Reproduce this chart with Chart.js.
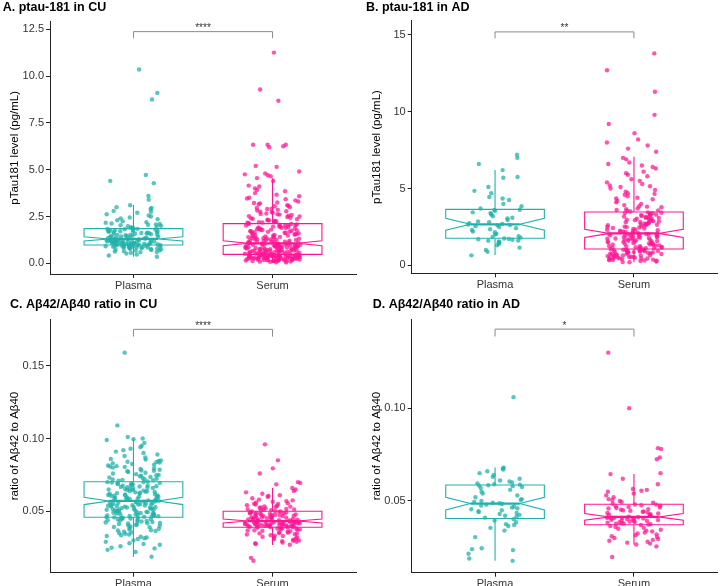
<!DOCTYPE html>
<html><head><meta charset="utf-8">
<script src="https://cdn.jsdelivr.net/npm/chart.js@4.4.1/dist/chart.umd.min.js"></script>
<style>
html,body{margin:0;padding:0;background:#fff;}
#wrap{position:relative;width:720px;height:586px;overflow:hidden;}
canvas{position:absolute;}
</style></head><body>
<div id="wrap">
<canvas id="cA" width="360" height="293" style="left:0;top:0"></canvas>
<canvas id="cB" width="360" height="293" style="left:360px;top:0"></canvas>
<canvas id="cC" width="360" height="293" style="left:0;top:293px"></canvas>
<canvas id="cD" width="360" height="293" style="left:360px;top:293px"></canvas>
</div>
<script>
// ---------- data ----------
const categories = ['Plasma', 'Serum'];
const panelTitles = ['A. ptau-181 in CU', 'B. ptau-181 in AD', 'C. Aβ42/Aβ40 ratio in CU', 'D. Aβ42/Aβ40 ratio in AD'];
const yAxisTitles = ['pTau181 level (pg/mL)', 'pTau181 level (pg/mL)', 'ratio of Aβ42 to Aβ40', 'ratio of Aβ42 to Aβ40'];

const yTicksA = [0, 2.5, 5, 7.5, 10, 12.5];
const yTickLabelsA = ['0.0', '2.5', '5.0', '7.5', '10.0', '12.5'];
const yTicksB = [0, 5, 10, 15];
const yTickLabelsB = ['0', '5', '10', '15'];
const yTicksC = [0.05, 0.10, 0.15];
const yTickLabelsC = ['0.05', '0.10', '0.15'];
const yTicksD = [0.05, 0.10];
const yTickLabelsD = ['0.05', '0.10'];

// A. ptau-181 in CU
const plasmaA = [0.35,0.42,0.47,0.52,0.56,0.6,0.63,0.65,0.68,0.7,0.71,0.73,0.75,0.76,0.78,0.79,0.8,0.82,0.83,0.84,0.85,0.86,0.87,0.88,0.89,0.9,0.91,0.92,0.93,0.93,0.94,0.95,0.95,0.96,0.97,0.97,0.6,
0.99,1.0,1.01,1.02,1.03,1.04,1.05,1.06,1.07,1.08,1.09,1.1,1.11,1.12,1.13,1.14,1.15,1.16,1.17,1.18,1.19,1.2,1.21,1.22,1.23,1.24,1.25,1.26,1.27,1.28,1.29,1.0,1.04,1.08,1.12,1.16,1.2,1.24,
1.31,1.33,1.35,1.36,1.38,1.4,1.41,1.43,1.45,1.46,1.48,1.5,1.51,1.53,1.55,1.56,1.58,1.6,1.61,1.63,1.65,1.66,1.68,1.7,1.71,1.73,1.75,1.76,1.78,1.8,1.82,1.84,1.32,1.42,1.52,1.62,1.72,1.83,
1.87,1.9,1.92,1.95,1.98,2.0,2.03,2.06,2.1,2.13,2.17,2.2,2.25,2.3,2.35,2.4,2.45,2.5,2.55,2.62,2.7,2.75,2.8,2.9,2.95,3.0,3.1,3.4,3.6,4.28,4.4,4.72,8.75,9.1,10.35,1.88,2.08];
const serumA = [0.05,0.06,0.08,0.09,0.1,0.11,0.12,0.13,0.14,0.15,0.15,0.16,0.17,0.18,0.18,0.19,0.2,0.2,0.21,0.22,0.22,0.23,0.24,0.24,0.25,0.26,0.26,0.27,0.28,0.28,0.29,0.3,0.3,0.31,0.32,0.32,0.33,0.34,0.34,0.35,0.35,0.36,0.37,0.37,0.38,0.38,0.39,0.4,0.4,0.41,0.41,0.42,0.42,0.43,0.43,0.44,0.44,0.45,0.45,0.46,0.46,0.47,0.47,0.12,0.2,0.27,0.33,0.39,0.43,0.16,
0.49,0.5,0.51,0.52,0.53,0.54,0.55,0.56,0.57,0.58,0.59,0.6,0.61,0.62,0.63,0.64,0.65,0.66,0.67,0.68,0.69,0.7,0.71,0.72,0.73,0.74,0.75,0.76,0.77,0.78,0.79,0.8,0.81,0.82,0.83,0.84,0.85,0.86,0.87,0.88,0.89,0.9,0.91,0.92,0.93,0.94,0.95,0.96,0.97,0.98,0.99,1.0,1.01,1.02,1.03,1.04,1.05,1.06,0.52,0.58,0.63,0.68,0.72,0.77,0.83,0.88,0.93,0.98,1.02,0.55,
1.08,1.1,1.12,1.13,1.15,1.17,1.18,1.2,1.22,1.24,1.25,1.27,1.29,1.3,1.32,1.34,1.36,1.38,1.4,1.42,1.44,1.46,1.48,1.5,1.52,1.54,1.56,1.58,1.6,1.62,1.64,1.66,1.68,1.7,1.72,1.74,1.76,1.78,1.8,1.82,1.84,1.86,1.88,1.9,1.92,1.94,1.96,1.98,2.0,2.02,2.04,2.06,2.08,2.1,1.11,1.16,1.21,1.26,1.33,1.41,1.47,1.55,1.63,1.71,1.79,1.87,1.95,2.03,2.11,1.35,
2.14,2.17,2.2,2.23,2.26,2.3,2.33,2.36,2.4,2.43,2.47,2.5,2.54,2.58,2.62,2.66,2.7,2.74,2.78,2.82,2.86,2.9,2.95,3.0,3.05,3.1,3.15,3.2,3.25,3.3,3.36,3.42,3.5,3.58,3.66,3.75,3.85,3.92,4.0,4.1,4.15,4.4,4.55,4.65,4.7,4.75,4.8,4.9,5.15,5.2,6.2,6.25,6.33,6.33,6.33,8.68,9.28,11.25,2.18,2.28,2.38,2.52,2.64,2.76,2.92,3.08,3.22,3.46,2.24,2.6];

// B. ptau-181 in AD
const plasmaB = [0.65,0.88,1.0,1.15,1.3,1.4,1.45,1.5,1.55,1.6,1.62,1.66,1.7,1.72,1.75,
1.8,1.85,1.9,2.0,2.05,2.15,2.2,2.3,2.35,2.42,2.5,2.55,2.6,2.63,2.66,
2.7,2.75,2.8,2.85,2.95,3.05,3.1,3.2,3.3,3.35,3.4,3.45,3.55,3.6,3.62,
3.7,3.85,4.0,4.25,4.35,4.45,4.7,4.85,5.1,5.7,5.75,6.2,6.6,7.0,7.2];
const serumB = [0.2,0.22,0.25,0.28,0.3,0.32,0.35,0.37,0.4,0.42,0.44,0.46,0.48,0.5,0.52,0.54,0.56,0.58,0.6,0.62,0.64,0.66,0.68,0.7,0.72,0.74,0.76,0.78,0.8,0.82,0.84,0.86,0.88,0.9,0.92,0.94,0.96,0.98,1.0,1.02,1.04,1.05,0.33,0.45,0.55,0.65,0.75,0.85,0.95,1.01,0.5,0.9,
1.08,1.1,1.12,1.14,1.16,1.18,1.2,1.22,1.25,1.28,1.3,1.33,1.36,1.38,1.4,1.43,1.46,1.48,1.5,1.53,1.56,1.58,1.6,1.63,1.66,1.68,1.7,1.73,1.76,1.78,1.8,1.83,1.86,1.88,1.9,1.93,1.96,1.98,2.0,2.02,2.04,2.06,2.07,1.15,1.24,1.35,1.45,1.55,1.65,1.75,1.85,1.95,2.05,
2.1,2.13,2.16,2.19,2.22,2.25,2.28,2.31,2.34,2.37,2.4,2.43,2.46,2.49,2.52,2.55,2.58,2.61,2.64,2.67,2.7,2.73,2.76,2.79,2.82,2.85,2.88,2.91,2.94,2.97,3.0,3.03,3.06,3.09,3.12,3.15,3.18,3.21,3.24,3.27,3.3,3.33,3.36,3.39,3.42,3.45,2.2,2.5,2.8,3.1,3.4,2.65,2.95,
3.5,3.55,3.6,3.65,3.7,3.78,3.85,3.92,4.0,4.1,4.2,4.3,4.4,4.5,4.6,4.65,4.7,4.8,4.9,5.0,5.1,5.15,5.2,5.3,5.4,5.5,5.6,5.8,5.9,6.0,6.1,6.3,6.4,6.5,6.6,6.7,6.9,7.0,7.4,7.6,7.8,8.0,8.2,8.6,9.2,9.8,11.3,12.7,13.8,3.58,3.82,4.35];

// C. Aβ42/Aβ40 ratio in CU
const plasmaC = [0.0188,0.022,0.0235,0.025,0.026,0.027,0.028,0.029,0.03,0.031,0.032,0.0325,0.033,0.034,0.0345,0.035,0.0355,0.036,0.0365,0.037,0.0375,0.038,0.0385,0.039,0.0395,0.04,0.0403,0.0406,0.041,0.0413,0.0416,0.042,0.0423,0.0426,0.043,0.0433,0.0436,0.044,0.0443,0.0446,0.045,0.0453,0.0456,0.0458,0.0245,0.0275,0.0315,0.0335,0.0368,0.0392,0.0418,0.0438,0.0448,0.0455,0.0428,
0.046,0.0462,0.0464,0.0466,0.0468,0.047,0.0472,0.0474,0.0476,0.0478,0.048,0.0482,0.0484,0.0486,0.0488,0.049,0.0492,0.0494,0.0496,0.0498,0.05,0.0502,0.0504,0.0506,0.0508,0.051,0.0512,0.0514,0.0516,0.0518,0.052,0.0522,0.0524,0.0526,0.0528,0.053,0.0532,0.0534,0.0536,0.0538,0.054,0.0542,0.0544,0.0546,0.0548,0.055,0.0552,0.0554,0.0556,0.0558,0.056,0.0562,0.0564,0.0566,0.0569,
0.0573,0.0575,0.0578,0.058,0.0582,0.0585,0.0587,0.059,0.0592,0.0595,0.0597,0.06,0.0602,0.0605,0.0607,0.061,0.0612,0.0615,0.0617,0.062,0.0622,0.0625,0.0627,0.063,0.0632,0.0635,0.0637,0.064,0.0642,0.0645,0.0647,0.065,0.0652,0.0655,0.0657,0.066,0.0662,0.0665,0.0667,0.067,0.0672,0.0675,0.0677,0.068,0.0682,0.0685,0.0687,0.069,0.0692,0.0695,0.0697,0.07,0.0701,0.0576,0.0608,
0.0705,0.071,0.0713,0.0716,0.072,0.0724,0.0728,0.0732,0.0736,0.074,0.0745,0.075,0.0755,0.076,0.0765,0.077,0.0775,0.078,0.0785,0.079,0.0795,0.08,0.0805,0.081,0.0815,0.082,0.0825,0.083,0.0835,0.084,0.0845,0.085,0.0855,0.086,0.087,0.088,0.089,0.09,0.091,0.092,0.093,0.094,0.095,0.097,0.099,0.0995,0.1,0.101,0.109,0.159,0.0718,0.0748,0.0778,0.0808,0.0838];
const serumC = [0.016,0.018,0.027,0.0275,0.028,0.0285,0.029,0.0295,0.03,0.0305,0.031,0.0315,0.032,0.0325,0.033,0.0333,0.0336,0.034,0.0343,0.0346,0.035,0.0353,0.0356,0.036,0.0363,0.0366,0.037,0.0373,0.0376,0.0378,0.038,0.0382,0.0384,0.0386,0.0388,0.0389,0.0298,0.0318,0.0348,0.0368,
0.0391,0.0392,0.0393,0.0394,0.0395,0.0396,0.0397,0.0398,0.0399,0.04,0.0401,0.0402,0.0403,0.0404,0.0405,0.0406,0.0407,0.0408,0.0409,0.041,0.0411,0.0412,0.0413,0.0414,0.0415,0.0416,0.0417,0.0418,0.0419,0.042,0.0421,0.0422,0.0423,0.0424,0.0425,0.0426,0.0427,0.0428,0.043,0.0432,
0.0434,0.0436,0.0438,0.044,0.0442,0.0444,0.0446,0.0448,0.045,0.0452,0.0454,0.0456,0.0458,0.046,0.0462,0.0464,0.0466,0.0468,0.047,0.0472,0.0474,0.0476,0.0478,0.048,0.0482,0.0484,0.0486,0.0488,0.049,0.0492,0.0494,0.0496,0.0498,0.0499,0.0437,0.0447,0.0457,0.0467,0.0477,0.0487,
0.0502,0.0505,0.0508,0.051,0.0513,0.0516,0.052,0.0523,0.0526,0.053,0.0534,0.0538,0.0542,0.0546,0.055,0.0555,0.056,0.0565,0.057,0.058,0.059,0.06,0.061,0.062,0.063,0.064,0.065,0.066,0.0685,0.0695,0.07,0.076,0.0795,0.085,0.096,0.0515,0.0532,0.0552,0.0575,0.0605];

// D. Aβ42/Aβ40 ratio in AD
const plasmaD = [0.0177,0.019,0.0215,0.0235,0.024,0.0245,0.0305,0.034,0.0355,0.0365,0.037,0.0375,0.0385,0.0395,0.0402,
0.041,0.0415,0.042,0.0425,0.043,0.0435,0.044,0.0445,0.045,0.0455,0.046,0.0465,0.047,0.0475,0.048,0.0484,
0.0488,0.049,0.0495,0.05,0.0505,0.051,0.052,0.053,0.054,0.055,0.056,0.057,0.0575,0.058,0.0583,0.0585,
0.0588,0.059,0.0595,0.06,0.0605,0.061,0.062,0.063,0.064,0.065,0.066,0.067,0.0675,0.068,0.106];
const serumD = [0.0198,0.0255,0.0265,0.027,0.0275,0.028,0.0285,0.029,0.0295,0.03,0.0305,0.031,0.0315,0.032,0.0325,0.033,0.0335,0.034,0.0345,0.035,0.0355,0.036,0.0365,0.037,
0.0373,0.0375,0.0377,0.0379,0.0381,0.0383,0.0385,0.0387,0.0389,0.0391,0.0393,0.0395,0.0397,0.0399,0.0401,0.0403,0.0405,0.0406,0.0407,0.0408,0.0409,0.041,0.0411,0.0412,
0.0415,0.0418,0.042,0.0423,0.0426,0.0429,0.0432,0.0435,0.0438,0.0441,0.0444,0.0447,0.045,0.0453,0.0456,0.0459,0.0462,0.0465,0.0468,0.0471,0.0474,0.0477,0.048,0.0481,
0.0485,0.049,0.0495,0.05,0.051,0.052,0.053,0.054,0.055,0.0555,0.056,0.0565,0.059,0.062,0.0645,0.065,0.0725,0.0735,0.078,0.0785,0.1,0.13,0.0505];

// box statistics: [lower whisker, Q1, notch low, median, notch high, Q3, upper whisker]
const boxPlasmaA = [0.35, 0.98, 1.19, 1.30, 1.42, 1.85, 3.11];
const boxSerumA  = [0.05, 0.48, 0.94, 1.07, 1.20, 2.12, 4.54];
const boxPlasmaB = [0.67, 1.76, 2.28, 2.67, 3.06, 3.64, 6.2];
const boxSerumB  = [0.2, 1.06, 1.82, 2.08, 2.34, 3.47, 7.07];
const boxPlasmaC = [0.0188, 0.0459, 0.0546, 0.0571, 0.0596, 0.0703, 0.100];
const boxSerumC  = [0.0269, 0.0390, 0.0419, 0.0433, 0.0447, 0.0500, 0.066];
const boxPlasmaD = [0.0177, 0.0405, 0.0452, 0.0486, 0.0520, 0.0586, 0.068];
const boxSerumD  = [0.0265, 0.0372, 0.0396, 0.0414, 0.0432, 0.0482, 0.0645];

// significance brackets (one per panel)
const bracketY     = [12.37, 15.2, 0.175, 0.1427];
const bracketTipY  = [12.02, 14.78, 0.170, 0.1387];
const bracketLabel = ['****', '**', '****', '*'];

// y-axis ranges
const yMin = [-0.57, -0.52, 0.0078, 0.0113];
const yMax = [12.9, 15.93, 0.1819, 0.148];

// ---------- style ----------
const FONT = "'Liberation Sans', Arial, Helvetica, sans-serif";
const TEAL = '#20B2AA', PINK = '#FF1493';
const TEAL_PT = 'rgba(32,178,170,0.75)', PINK_PT = 'rgba(255,20,147,0.72)';
const AXIS = '#222';
const BOX_HALF = 0.355, NOTCH_W = 0.5, JITTER = 0.2;

function jit(i, seed) {
  const s = Math.sin((i + 1) * 12.9898 + seed * 78.233) * 43758.5453;
  const u = s - Math.floor(s);
  return (u * 2 - 1) * JITTER;
}

function makePlugin(boxes, colors, k) {
  return {
    id: 'boxAndBracket' + k,
    afterDatasetsDraw(chart) {
      const {ctx, scales: {x, y}} = chart;
      const Y = v => y.getPixelForValue(v);
      boxes.forEach((b, j) => {
        const c = j + 1;
        const [lo, q1, nlo, med, nhi, q3, hi] = b;
        const xl = x.getPixelForValue(c - BOX_HALF), xr = x.getPixelForValue(c + BOX_HALF);
        const xc = x.getPixelForValue(c);
        const ind = (xr - xl) * (1 - NOTCH_W) / 2;
        ctx.save();
        ctx.strokeStyle = colors[j];
        ctx.lineWidth = 1.1;
        ctx.lineJoin = 'miter';
        ctx.beginPath();
        ctx.moveTo(xc, Y(q3)); ctx.lineTo(xc, Y(hi));
        ctx.moveTo(xc, Y(q1)); ctx.lineTo(xc, Y(lo));
        ctx.stroke();
        ctx.beginPath();
        ctx.moveTo(xl, Y(q3)); ctx.lineTo(xl, Y(nhi)); ctx.lineTo(xl + ind, Y(med));
        ctx.lineTo(xl, Y(nlo)); ctx.lineTo(xl, Y(q1)); ctx.lineTo(xr, Y(q1));
        ctx.lineTo(xr, Y(nlo)); ctx.lineTo(xr - ind, Y(med)); ctx.lineTo(xr, Y(nhi));
        ctx.lineTo(xr, Y(q3)); ctx.closePath();
        ctx.stroke();
        ctx.lineWidth = 2.2;
        ctx.beginPath();
        ctx.moveTo(xl + ind, Y(med)); ctx.lineTo(xr - ind, Y(med));
        ctx.stroke();
        ctx.restore();
      });
      // bracket
      const xa = x.getPixelForValue(1), xb = x.getPixelForValue(2);
      const yb = Y(bracketY[k]), yt = Y(bracketTipY[k]);
      ctx.save();
      ctx.strokeStyle = '#8a8a8a';
      ctx.lineWidth = 1;
      ctx.beginPath();
      ctx.moveTo(xa, yt); ctx.lineTo(xa, yb); ctx.lineTo(xb, yb); ctx.lineTo(xb, yt);
      ctx.stroke();
      ctx.fillStyle = '#333';
      ctx.font = '10px ' + FONT;
      ctx.textAlign = 'center';
      ctx.textBaseline = 'alphabetic';
      ctx.fillText(bracketLabel[k], (xa + xb) / 2, yb - 0.5);
      ctx.restore();
    }
  };
}

const panels = [
  {id: 'cA', plasma: plasmaA, serum: serumA, boxes: [boxPlasmaA, boxSerumA], ticks: yTicksA, labels: yTickLabelsA,
   titleX: 2.7, titleTop: 0, titleBottom: 6.7, yW: 47.3, padRight: 4, xH: 19, yTitlePad: 5.3},
  {id: 'cB', plasma: plasmaB, serum: serumB, boxes: [boxPlasmaB, boxSerumB], ticks: yTicksB, labels: yTickLabelsB,
   titleX: 6, titleTop: 0, titleBottom: 5.7, yW: 45.7, padRight: 2.7, xH: 19.7, yTitlePad: 4.3},
  {id: 'cC', plasma: plasmaC, serum: serumC, boxes: [boxPlasmaC, boxSerumC], ticks: yTicksC, labels: yTickLabelsC,
   titleX: 10, titleTop: 4.5, titleBottom: 6.8, yW: 40, padRight: 4, xH: 13.3, yTitlePad: -2},
  {id: 'cD', plasma: plasmaD, serum: serumD, boxes: [boxPlasmaD, boxSerumD], ticks: yTicksD, labels: yTickLabelsD,
   titleX: 12.7, titleTop: 4.5, titleBottom: 6.8, yW: 39, padRight: 2.7, xH: 13.3, yTitlePad: -3}
];

panels.forEach((p, k) => {
  new Chart(document.getElementById(p.id), {
    type: 'scatter',
    data: {
      datasets: [
        {data: p.plasma.map((v, i) => ({x: 1 + jit(i, k * 2), y: v})), backgroundColor: TEAL_PT,
         pointRadius: 2.2, pointBorderWidth: 0, pointHoverRadius: 2.2},
        {data: p.serum.map((v, i) => ({x: 2 + jit(i, k * 2 + 1), y: v})), backgroundColor: PINK_PT,
         pointRadius: 2.2, pointBorderWidth: 0, pointHoverRadius: 2.2}
      ]
    },
    options: {
      responsive: false,
      animation: false,
      events: [],
      layout: {padding: {left: p.titleX, right: p.padRight, top: 0, bottom: 0}},
      plugins: {
        legend: {display: false},
        tooltip: {enabled: false},
        title: {display: true, text: panelTitles[k], align: 'start', color: '#000',
                font: {family: FONT, size: 12.5, weight: 'bold'},
                padding: {top: p.titleTop, bottom: p.titleBottom}}
      },
      scales: {
        x: {
          type: 'linear', min: 0.4, max: 2.6,
          afterBuildTicks: s => { s.ticks = categories.map((c, i) => ({value: i + 1})); },
          afterFit: s => { s.height = p.xH; },
          ticks: {callback: (v, i) => categories[i], color: '#333', font: {family: FONT, size: 11},
                  padding: 1, maxRotation: 0, autoSkip: false},
          grid: {drawOnChartArea: false, drawTicks: true, tickLength: 4, color: AXIS, lineWidth: 1},
          border: {display: true, color: AXIS, width: 1}
        },
        y: {
          min: yMin[k], max: yMax[k],
          afterBuildTicks: s => { s.ticks = p.ticks.map(v => ({value: v})); },
          afterFit: s => { s.width = p.yW; },
          ticks: {callback: (v, i) => p.labels[i], color: '#333', font: {family: FONT, size: 11}, padding: 2, autoSkip: false},
          grid: {drawOnChartArea: false, drawTicks: true, tickLength: 4, color: AXIS, lineWidth: 1},
          border: {display: true, color: AXIS, width: 1},
          title: {display: true, text: yAxisTitles[k], color: '#000', font: {family: FONT, size: 11.5},
                  padding: {top: p.yTitlePad, bottom: 0}}
        }
      }
    },
    plugins: [makePlugin(p.boxes, [TEAL, PINK], k)]
  });
});
</script>
</body></html>
